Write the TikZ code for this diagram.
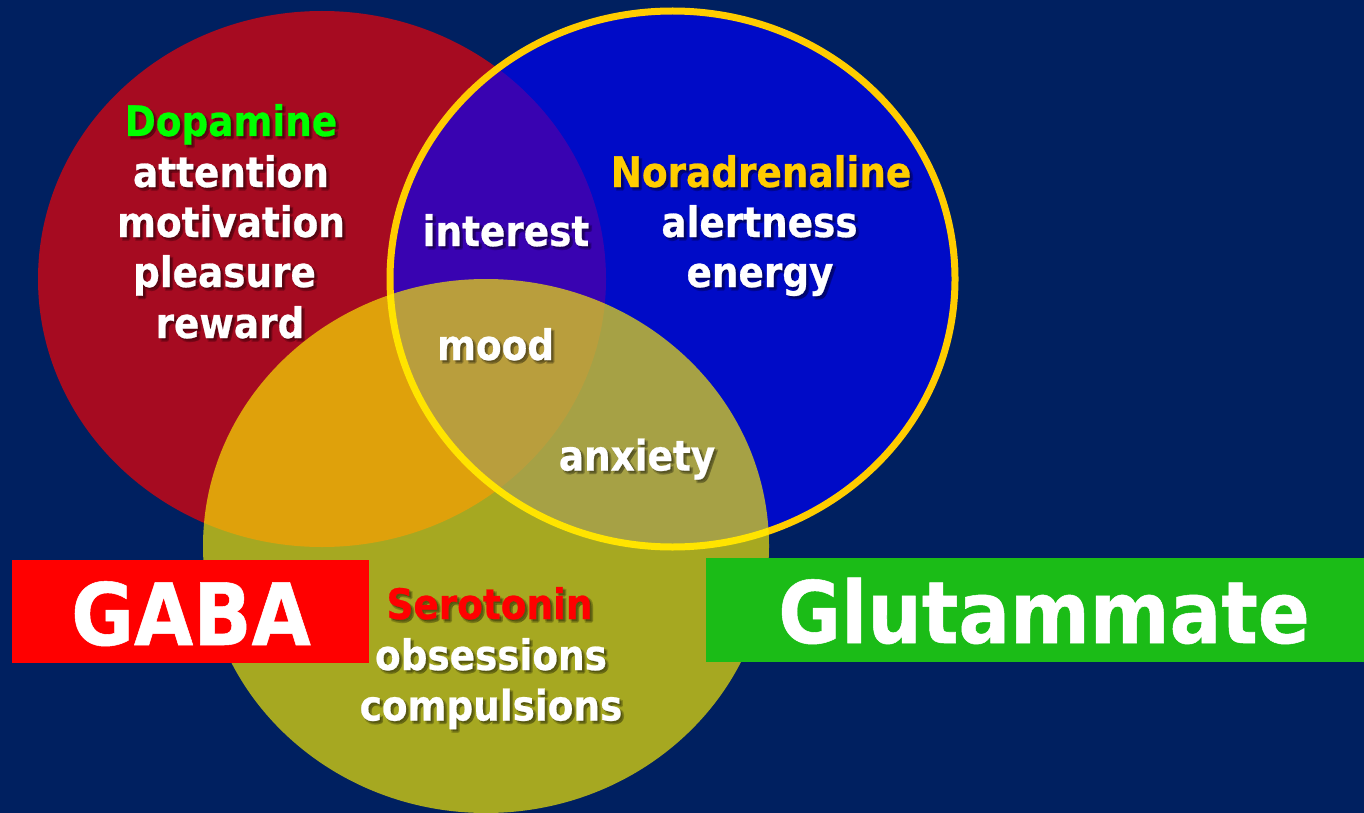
\documentclass[tikz,border=0pt]{standalone}
\usepackage{fontspec}
\newfontfamily\vfont{DejaVu Sans}[FakeStretch=0.89, FakeBold=0.6]
\definecolor{navy}{RGB}{0,32,96}
\definecolor{gold}{RGB}{255,204,0}
\definecolor{boxgreen}{RGB}{27,188,23}
\definecolor{dopgreen}{RGB}{0,255,0}
\newcommand\shtxt[5]{%
  \node[txt, shadowtxt] (#1-sa) at (#2+1.5,#3+1.5) {#5};
  \node[txt, shadowtxt] (#1-sb) at (#2+3,#3+3) {#5};
  \node[txt, shadowtxt] (#1-sc) at (#2+3.5,#3+2) {#5};
  \node[txt, shadowtxt] (#1-sd) at (#2+2,#3+3.5) {#5};
  \node[txt, text=#4] (#1) at (#2,#3) {#5};}
\begin{document}
\begin{tikzpicture}[x=1pt,y=-1pt,
  txt/.style={anchor=base, inner sep=0pt, font=\vfont\bfseries\fontsize{42}{50}\selectfont},
  shadowtxt/.style={text=black, opacity=0.14},
  big/.style={anchor=base, inner sep=0pt, text=white, font=\vfont\bfseries\fontsize{86}{100}\selectfont},
  venn/.style={fill opacity=0.65},
  labelbox/.style={inner sep=0pt}]
\useasboundingbox (0,0) rectangle (1364,813);
\fill[navy] (0,0) rectangle (1364,813);
% circles
\fill[venn, red] (322,279) ellipse [x radius=284, y radius=268];
\filldraw[venn, fill=blue, draw=gold, draw opacity=1, line width=7pt] (672.5,279) ellipse [x radius=282.5, y radius=268];
\fill[venn, yellow] (486,546) ellipse [x radius=283, y radius=267];
% boxes
\fill[red] (12,560) rectangle (369,663);
\fill[boxgreen] (706,558) rectangle (1364,662);
\node[big] (gaba) at (191,645) {GABA};
\node[big] (glu) at (1044,643) {Glutammate};
% dopamine
\shtxt{dop}{231}{136}{dopgreen}{Dopamine}
\shtxt{att}{231}{187}{white}{attention}
\shtxt{mot}{231}{237}{white}{motivation}
\shtxt{ple}{224.5}{287}{white}{pleasure}
\shtxt{rew}{230}{338}{white}{reward}
% noradrenaline
\shtxt{nor}{761}{187}{gold}{Noradrenaline}
\shtxt{ale}{759.5}{237}{white}{alertness}
\shtxt{ene}{760}{287}{white}{energy}
% overlaps
\shtxt{int}{506}{246}{white}{interest}
\shtxt{moo}{495.6}{360}{white}{mood}
\shtxt{anx}{637}{470.5}{white}{anxiety}
% serotonin
\shtxt{ser}{489.5}{619}{red}{Serotonin}
\shtxt{obs}{491}{670}{white}{obsessions}
\shtxt{com}{491}{720.5}{white}{compulsions}
\end{tikzpicture}
\end{document}
